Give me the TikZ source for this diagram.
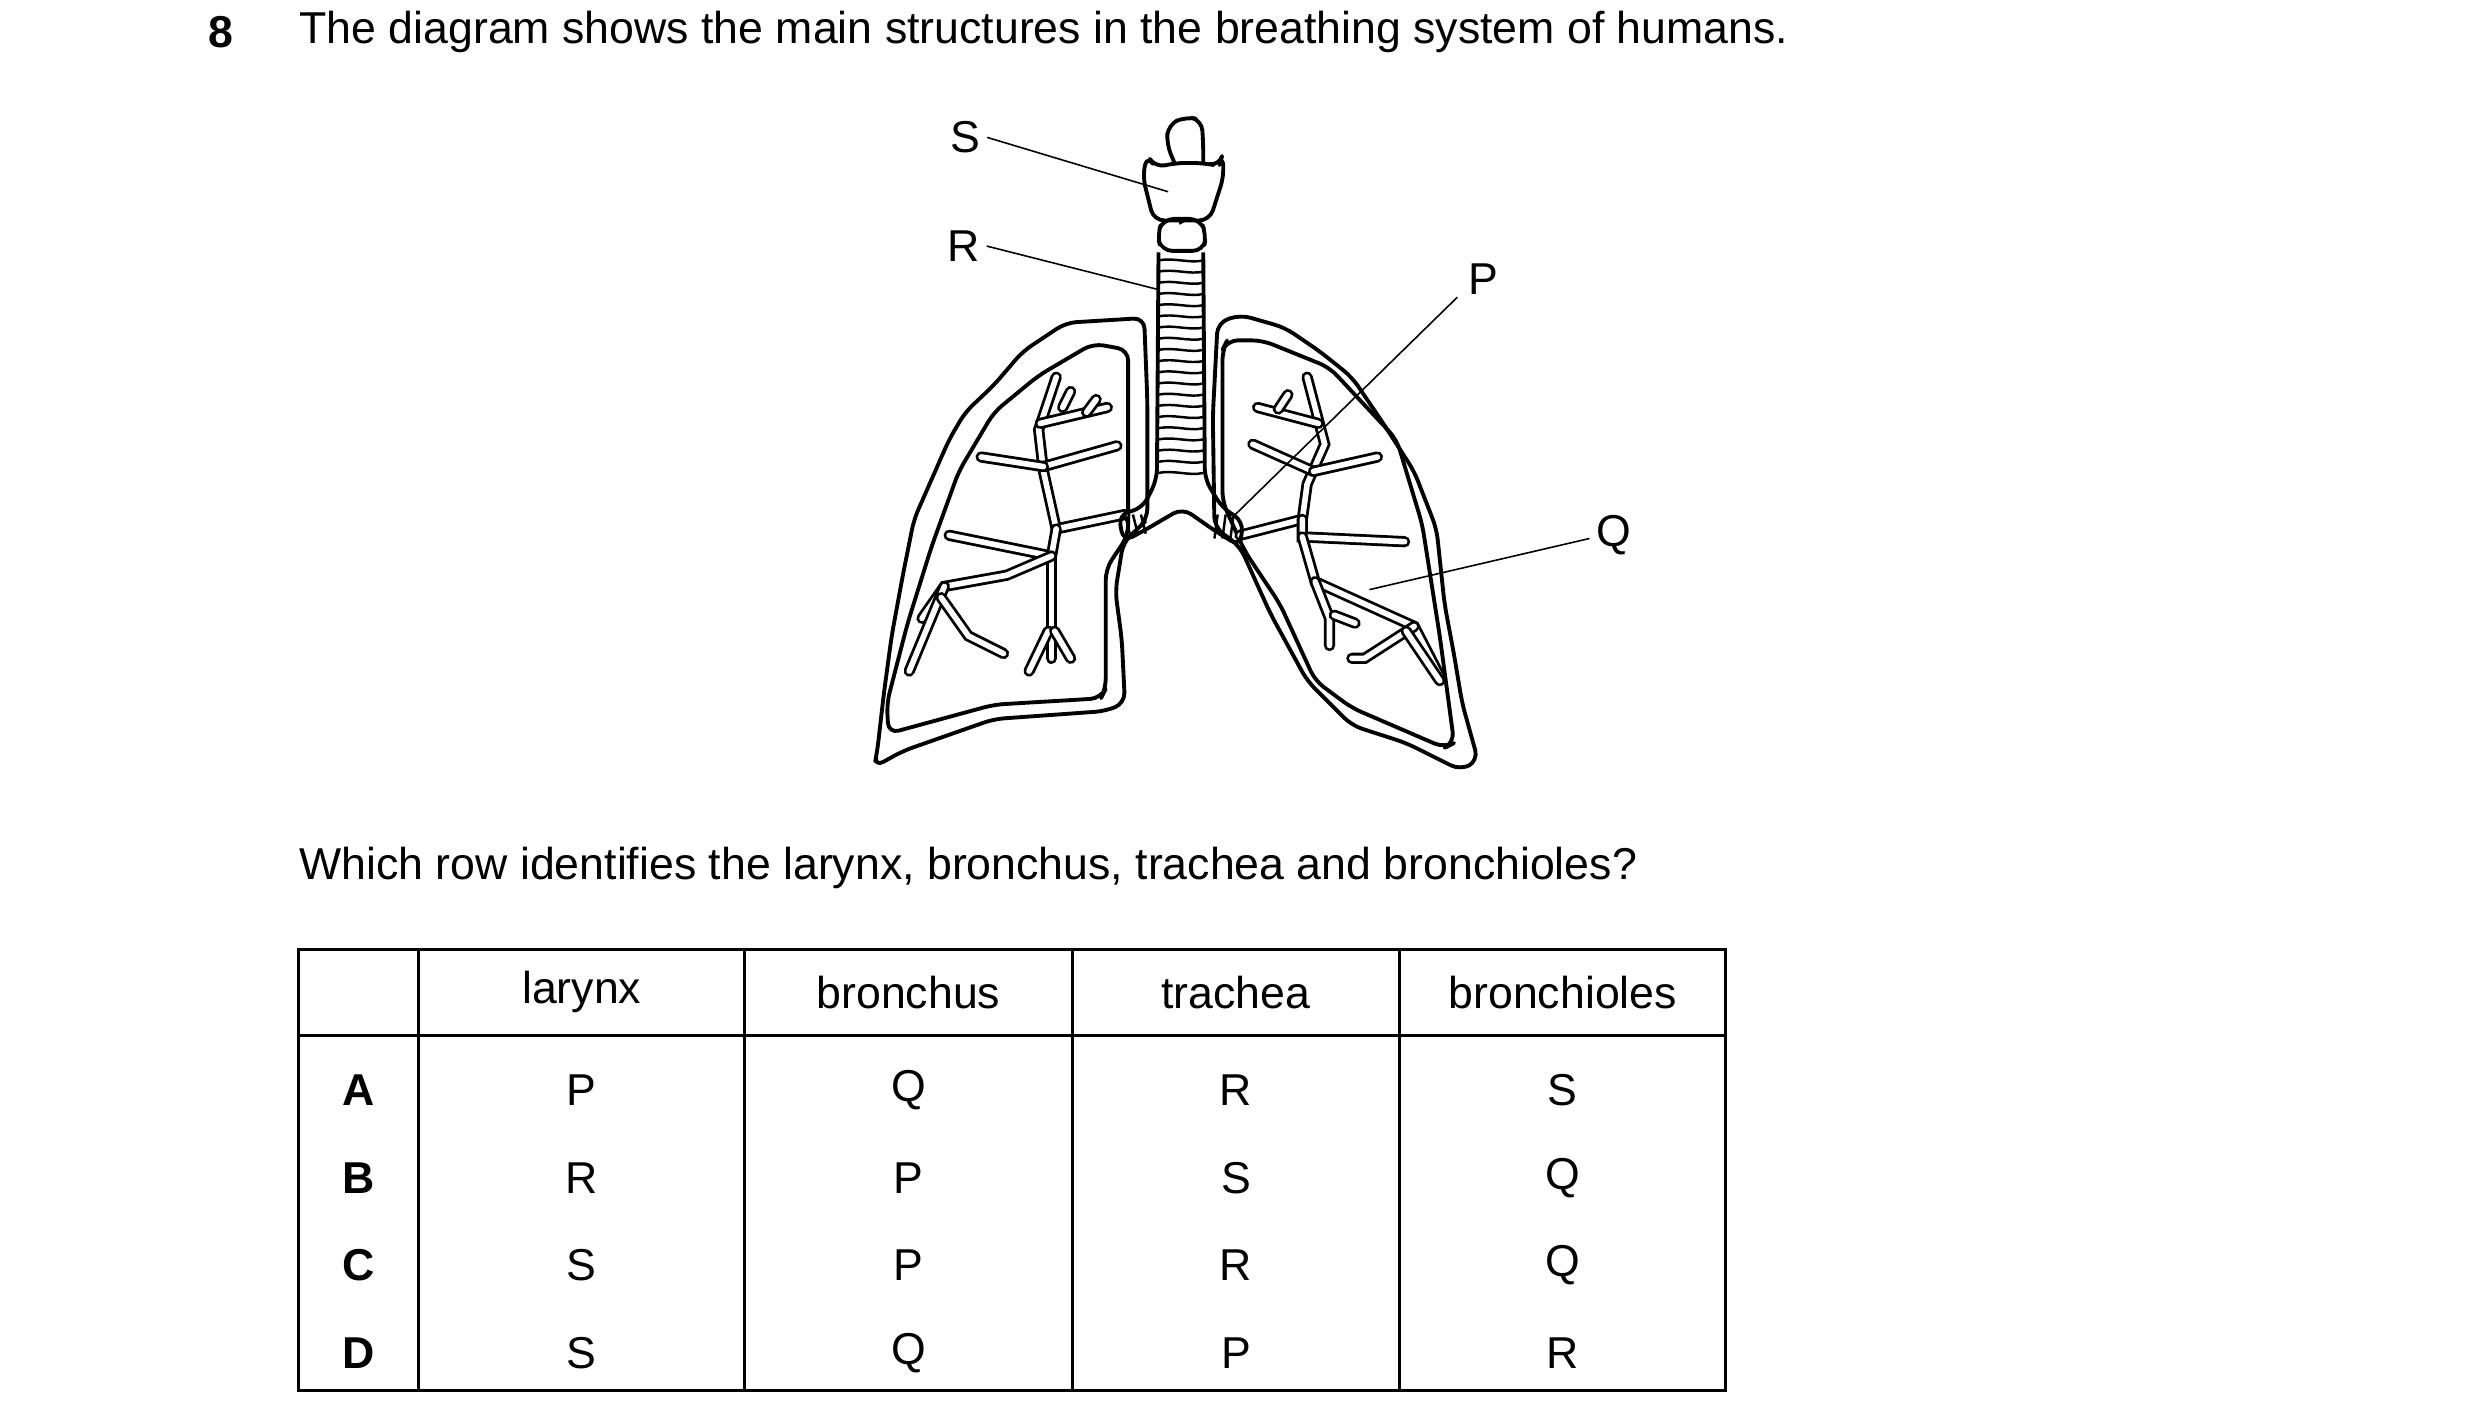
\documentclass[tikz,border=0pt]{standalone}
\usepackage{fontspec}
\setmainfont{Liberation Sans}
\begin{document}
\begin{tikzpicture}[x=0.01598cm,y=-0.01598cm,
  txt/.style={font=\fontsize{12.7}{15}\selectfont, inner sep=0pt},
  lab/.style={txt},
  lead/.style={line width=0.45pt},
  organ/.style={line width=1.1pt, line join=round, rounded corners=3pt},
  tube/.style={line width=0.8pt, double, double distance=1.6pt, line cap=round},
  tline/.style={line width=0.7pt}]
\useasboundingbox (0,0) rectangle (1552,886);
% header
\node[txt, font=\fontsize{12.7}{15}\selectfont\bfseries, anchor=west] (num) at (130,20) {8};
\node[txt, anchor=west] (head) at (187,20) {The diagram shows the main structures in the breathing system of humans.};
% left lung outer
\draw[organ] (716,199) -- (667,202) -- (640,220) -- (622,241) -- (604,258) -- (594,275) -- (583,300) -- (572,325) -- (565,360) -- (558,398) -- (553,435) -- (549,470) -- (547,480) -- (565,470) -- (622,450) -- (692,445) -- (704,440) -- (702,400) -- (698,370) -- (703,339) -- (712,331) -- (718,325) -- (718,250) -- cycle;
% left lung inner
\draw[organ] (706,219) -- (684,215) -- (650,235) -- (622,258) -- (600,295) -- (583,342) -- (568,390) -- (555,440) -- (556,459) -- (622,441) -- (689,437) -- (692,431) -- (692,356) -- (706,335) -- cycle;
% right lung outer
\draw[organ] (762,202) -- (776,197) -- (804,205) -- (826,220) -- (846,236) -- (865,264) -- (885,295) -- (899,331) -- (904,378) -- (910,410) -- (915,440) -- (925,476) -- (914,482) -- (880,465) -- (846,454) -- (818,426) -- (795,384) -- (776,342) -- (760,330) -- (759,260) -- cycle;
% right lung inner
\draw[organ] (765,219) -- (768,213) -- (790,213) -- (832,230) -- (874,275) -- (890,328) -- (901,398) -- (910,465) -- (904,468) -- (846,443) -- (823,426) -- (801,378) -- (779,345) -- (765,314) -- cycle;
% bronchial tree left
\draw[tube] (704,322) -- (661,331) -- (653,295) -- (650,269) -- (661,236);
\draw[tube] (651,265) -- (693,255);
\draw[tube] (653,292) -- (699,279);
\draw[tube] (653,292) -- (614,286);
\draw[tube] (661,331) -- (658,348) -- (594,335);
\draw[tube] (658,348) -- (658,412);
\draw[tube] (658,348) -- (630,360) -- (591,367) -- (577,387);
\draw[tube] (591,367) -- (569,420);
\draw[tube] (589,374) -- (606,398) -- (628,409);
\draw[tube] (656,395) -- (644,420);
\draw[tube] (660,395) -- (670,412);
\draw[tube] (665,255) -- (670,245);
\draw[tube] (680,258) -- (686,250);
% bronchial tree right
\draw[tube] (776,335) -- (815,325) -- (818,303) -- (829,278) -- (818,236);
\draw[tube] (825,265) -- (787,255);
\draw[tube] (822,295) -- (784,278);
\draw[tube] (822,295) -- (862,286);
\draw[tube] (815,325) -- (815,336) -- (879,339);
\draw[tube] (815,336) -- (823,364) -- (885,392) -- (901,423);
\draw[tube] (885,392) -- (854,412) -- (846,412);
\draw[tube] (823,364) -- (832,387) -- (832,404);
\draw[tube] (835,385) -- (848,390);
\draw[tube] (880,395) -- (901,426);
\draw[tube] (800,256) -- (806,247);
% trachea
\draw[organ] (725,158) -- (724,300) -- (715,318) -- (700,322) -- (703,339) -- (716,332) -- (740,318) -- (760,332) -- (776,342) -- (778,326) -- (765,318) -- (754,300) -- (753,158);
\foreach \yy in {163,170,...,296} {
  \draw[tline] (725,\yy) .. controls (735,\yy-2) and (744,\yy+2) .. (753,\yy);
}
\foreach \xx in {704,709,714} \draw[tline] (\xx,322) -- (\xx+3,334);
\foreach \xx in {762,767,772} \draw[tline] (\xx,322) -- (\xx-2,337);
% cricoid and larynx
\draw[organ] (727,157) -- (724,147) -- (728,137) -- (751,137) -- (755,147) -- (753,157) -- cycle;
\draw[organ] (718,97) -- (723,105) -- (735,102) -- (753,102) -- (763,104) -- (765,97) -- (766,110) -- (757,138) -- (722,138) -- (715,110) -- cycle;
\draw[organ] (735,102) -- (730,90) -- (731,78) -- (742,73) -- (752,75) -- (753,90) -- (753,102);
\draw[tline] (738,140) -- (743,137);
% labels
\node[lab] (S) at (604,86) {S};
\node[lab] (R) at (603,154) {R};
\node[lab] (P) at (928,175) {P};
\node[lab] (Q) at (1010,335) {Q};
\coordinate (s1) at (731,120);
\coordinate (r1) at (724,181);
\coordinate (p1) at (771,324);
\coordinate (q1) at (857,369);
\draw[lead] (S.east) ++(4,0) -- (s1);
\draw[lead] (R.east) ++(4,0) -- (r1);
\draw[lead] (912,186) -- (p1);
\draw[lead] (Q.west) ++(-4,2) -- (q1);
% question
\node[txt, anchor=west] (q) at (187,543) {Which row identifies the larynx, bronchus, trachea and bronchioles?};
% table
\draw[line width=0.9pt] (187,594) rectangle (1080,870);
\draw[line width=0.9pt] (187,648) -- (1080,648);
\foreach \xx in {262,466,671,876} \draw[line width=0.9pt] (\xx,594) -- (\xx,870);
\node[txt] (h1) at (364,621) {larynx};
\node[txt] (h2) at (568.5,621) {bronchus};
\node[txt] (h3) at (773.5,621) {trachea};
\node[txt] (h4) at (978,621) {bronchioles};
\foreach \r/\yy/\a/\b/\c/\d in {A/682/P/Q/R/S, B/737/R/P/S/Q, C/792/S/P/R/Q, D/847/S/Q/P/R} {
  \node[txt, font=\fontsize{12.7}{15}\selectfont\bfseries] (row\r) at (224.5,\yy) {\r};
  \node[txt] (l\r) at (364,\yy) {\a};
  \node[txt] (b\r) at (568.5,\yy) {\b};
  \node[txt] (t\r) at (773.5,\yy) {\c};
  \node[txt] (c\r) at (978,\yy) {\d};
}
\end{tikzpicture}
\end{document}
